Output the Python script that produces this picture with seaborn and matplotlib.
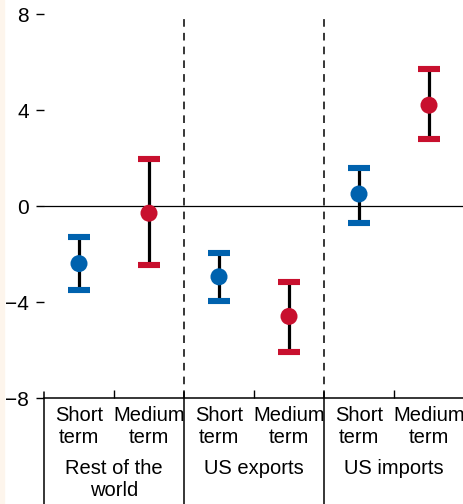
"""Short- and medium-term estimates with error ranges, by trade group."""

import matplotlib.pyplot as plt
import matplotlib.transforms as mtransforms
from matplotlib.patches import Rectangle
import numpy as np
import pandas as pd
import seaborn as sns

groups = ["Rest of the\nworld", "US exports", "US imports"]
horizons = ["Short\nterm", "Medium\nterm"]
estimate = [-2.4, -0.3, -2.95, -4.6, 0.5, 4.2]
upper = [-1.3, 1.95, -1.95, -3.15, 1.6, 5.7]
lower = [-3.5, -2.45, -3.95, -6.1, -0.7, 2.8]

BLUE = "#0062ae"
RED = "#c8102e"

sns.set_style("white")
plt.rcParams["font.family"] = ["Liberation Sans Narrow", "Liberation Sans", "DejaVu Sans"]
plt.rcParams["text.color"] = "black"
plt.rcParams["xtick.color"] = "black"
plt.rcParams["ytick.color"] = "black"

df = pd.DataFrame({
    "pos": np.arange(len(estimate)),
    "group": np.repeat(groups, len(horizons)),
    "horizon": horizons * len(groups),
    "estimate": estimate,
    "upper": upper,
    "lower": lower,
})
colors = [BLUE if h == horizons[0] else RED for h in df["horizon"]]

fig = plt.figure(figsize=(4.64, 5.04), dpi=100)
fig.patches.append(Rectangle((0, 0), 4 / 464, 1, transform=fig.transFigure,
                             color="#fdf5ec", zorder=-1))
ax = fig.add_axes([44 / 464, 106 / 504, 420 / 464, 384 / 504])

ax.axhline(0, color="black", lw=0.9, zorder=1)
for xb in (1.5, 3.5):
    ax.axvline(xb, color="black", lw=1.1, ls=(0, (5, 4)), zorder=1)

ax.vlines(df["pos"], df["lower"], df["upper"], color="black", lw=2.3, zorder=2)
cap = 0.16
ax.hlines(df["upper"], df["pos"] - cap, df["pos"] + cap, colors=colors, lw=4.4, zorder=3)
ax.hlines(df["lower"], df["pos"] - cap, df["pos"] + cap, colors=colors, lw=4.4, zorder=3)
sns.scatterplot(data=df, x="pos", y="estimate", hue="horizon",
                palette=[BLUE, RED], s=150, edgecolor="none", legend=False,
                ax=ax, zorder=4)

ax.set_xlim(-0.5, 5.5)
ax.set_ylim(-8, 8)
ax.set_yticks([-8, -4, 0, 4, 8])
ax.set_yticklabels(["\u22128", "\u22124", "0", "4", "8"])
ax.set_xticks(df["pos"])
ax.set_xticklabels(df["horizon"], linespacing=1.15)
ax.set_xticks([0.5, 2.5, 4.5], minor=True)
ax.set_xlabel("")
ax.set_ylabel("")

ax.tick_params(axis="x", which="major", bottom=True, length=0, pad=6, labelsize=14.5)
ax.tick_params(axis="x", which="minor", bottom=True, direction="in", length=6,
               width=1, color="black")
ax.tick_params(axis="y", which="major", left=True, right=True, direction="out",
               length=6, width=1, color="black", pad=5, labelsize=15)
ax.tick_params(axis="y", which="major", right=True, direction="in", length=2)
ax.tick_params(axis="y", which="major", left=True, direction="out", length=6)

sns.despine(ax=ax, left=True, right=True, top=True)
ax.spines["bottom"].set_color("black")
ax.spines["bottom"].set_linewidth(1.1)

trans = mtransforms.blended_transform_factory(ax.transData, ax.transAxes)
for xb in (-0.5, 1.5, 3.5):
    ax.plot([xb, xb], [0.016, -0.3], color="black", lw=1.1,
            transform=trans, clip_on=False)
for i, g in enumerate(groups):
    ax.text(2 * i + 0.5, -0.16, g, transform=trans, ha="center", va="top",
            fontsize=14.5, linespacing=1.15)

fig.savefig("out.png", dpi=100)
